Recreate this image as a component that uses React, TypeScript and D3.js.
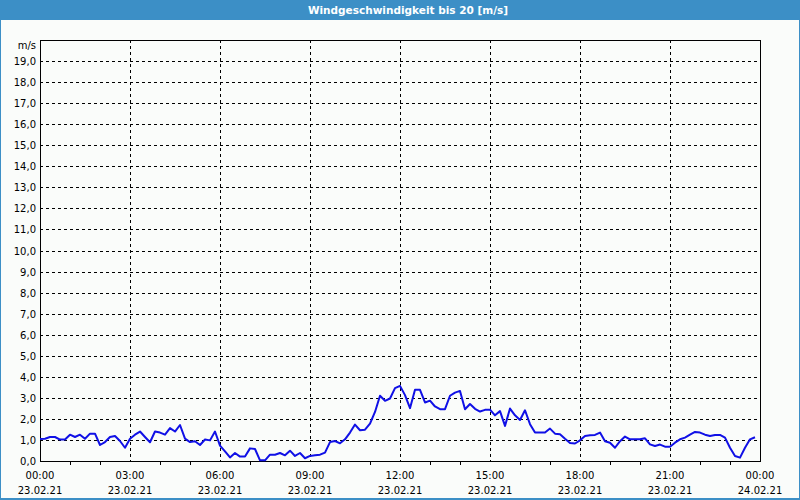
import React from "react";
import * as d3 from "d3";

const title = "Windgeschwindigkeit bis 20 [m/s]";
const unitLabel = "m/s";
const startTime = new Date(2021, 1, 23, 0, 0);
const endTime = new Date(2021, 1, 24, 0, 0);
const stepMinutes = 10;
// wind speed every 10 minutes from 00:00 to 23:50
const speeds = [
  1.05, 1.06, 1.14, 1.14, 1.02, 1.02, 1.25, 1.14, 1.25, 1.06, 1.3, 1.3, 0.76, 0.9, 1.14, 1.19, 0.95, 0.63,
  1.06, 1.25, 1.4, 1.14, 0.89, 1.4,
  1.35, 1.25, 1.56, 1.4, 1.71, 1.06, 0.9, 0.94, 0.76, 1.02, 0.98, 1.4,
  0.73, 0.46, 0.17, 0.38, 0.21, 0.21, 0.6, 0.57, 0.03, 0.03, 0.3, 0.3,
  0.38, 0.27, 0.49, 0.24, 0.38, 0.13, 0.24, 0.27, 0.3, 0.4, 0.9, 0.95,
  0.84, 1.03, 1.35, 1.73, 1.46, 1.49, 1.78, 2.33, 3.1, 2.86, 2.97, 3.46,
  3.57, 3.13, 2.51, 3.38, 3.38, 2.78, 2.87, 2.59, 2.46, 2.46, 3.1, 3.25,
  3.33, 2.46, 2.71, 2.48, 2.35, 2.43, 2.44, 2.17, 2.37, 1.67, 2.49, 2.17,
  1.95, 2.41, 1.75, 1.35, 1.35, 1.35, 1.54, 1.3, 1.27, 1.06, 0.86, 0.83,
  0.98, 1.19, 1.22, 1.24, 1.35, 0.94, 0.87, 0.63, 0.94, 1.16, 1.03, 1.03,
  1.03, 1.08, 0.79, 0.71, 0.78, 0.68, 0.68, 0.87, 1.03, 1.11, 1.25, 1.38,
  1.35, 1.25, 1.19, 1.24, 1.24, 1.11, 0.63, 0.24, 0.16, 0.63, 1.03, 1.13,
];
const yTicks = [0, 1, 2, 3, 4, 5, 6, 7, 8, 9, 10, 11, 12, 13, 14, 15, 16, 17, 18, 19];
const yMax = 20;

const W = 800;
const H = 500;
const L = 40, R = 760, T = 40, B = 461;
const FONT = "'DejaVu Sans', sans-serif";

export default function App() {
  const x = d3.scaleTime().domain([startTime, endTime]).range([L, R]);
  const y = d3.scaleLinear().domain([0, yMax]).range([B, T]);
  const points = speeds.map((v, i) => ({ t: d3.timeMinute.offset(startTime, i * stepMinutes), v }));
  const line = d3
    .line<{ t: Date; v: number }>()
    .x((d) => x(d.t))
    .y((d) => y(d.v));
  const majorTicks = d3.timeHour.every(3)!.range(startTime, d3.timeMinute.offset(endTime, 1));
  const minorTicks = d3.timeHour.range(startTime, endTime).filter((d) => d.getHours() % 3 !== 0);
  const fmtTime = d3.timeFormat("%H:%M");
  const fmtDate = d3.timeFormat("%d.%m.%y");
  const fmtY = (v: number) => v.toFixed(1).replace(".", ",");

  return (
    <svg
      width={W}
      height={H}
      style={{ position: "absolute", left: 0, top: 0, display: "block" }}
      fontFamily={FONT}
    >
      <rect x={0} y={0} width={W} height={H} fill="#fafcfa" />
      <rect x={0} y={0} width={W} height={20} fill="#3c8fc6" />
      <text x={W / 2 + 8} y={14} textAnchor="middle" fill="#ffffff" fontSize={10.5} fontWeight="bold">
        {title}
      </text>
      <rect x={0.5} y={0.5} width={W - 1} height={H - 1} fill="none" stroke="#3c8fc6" strokeWidth={1} />
      <line x1={0} x2={W} y1={H - 1} y2={H - 1} stroke="#3c8fc6" strokeWidth={2} />

      {/* horizontal grid */}
      {yTicks.filter((v) => v > 0).map((v) => (
        <line key={"hy" + v} x1={L} x2={R} y1={Math.round(y(v)) + 0.5} y2={Math.round(y(v)) + 0.5}
          stroke="#000" strokeWidth={1} strokeDasharray="3,3" />
      ))}
      {/* vertical grid */}
      {majorTicks.slice(1, -1).map((d, i) => (
        <line key={"vx" + i} x1={Math.round(x(d)) + 0.5} x2={Math.round(x(d)) + 0.5} y1={T} y2={B}
          stroke="#000" strokeWidth={1} strokeDasharray="3,3" />
      ))}
      {/* minor ticks */}
      {minorTicks.map((d, i) => (
        <line key={"mt" + i} x1={Math.round(x(d)) + 0.5} x2={Math.round(x(d)) + 0.5} y1={B} y2={B + 4}
          stroke="#000" strokeWidth={1} />
      ))}
      {/* plot frame */}
      <rect x={L + 0.5} y={T + 0.5} width={R - L} height={B - T} fill="none" stroke="#000" strokeWidth={1} />

      {/* y labels */}
      <text x={36} y={T + 9} textAnchor="end" fontSize={10} fill="#000">{unitLabel}</text>
      {yTicks.map((v) => (
        <text key={"yl" + v} x={36} y={y(v) + 4} textAnchor="end" fontSize={10} fill="#000">
          {fmtY(v)}
        </text>
      ))}
      {/* x labels */}
      {majorTicks.map((d, i) => (
        <g key={"xl" + i}>
          <text x={x(d)} y={479} textAnchor="middle" fontSize={10} fill="#000">{fmtTime(d)}</text>
          <text x={x(d)} y={494} textAnchor="middle" fontSize={10} fill="#000">{fmtDate(d)}</text>
        </g>
      ))}

      {/* data line */}
      <path d={line(points) || ""} fill="none" stroke="#1010e6" strokeWidth={2} strokeLinejoin="round" />
    </svg>
  );
}
